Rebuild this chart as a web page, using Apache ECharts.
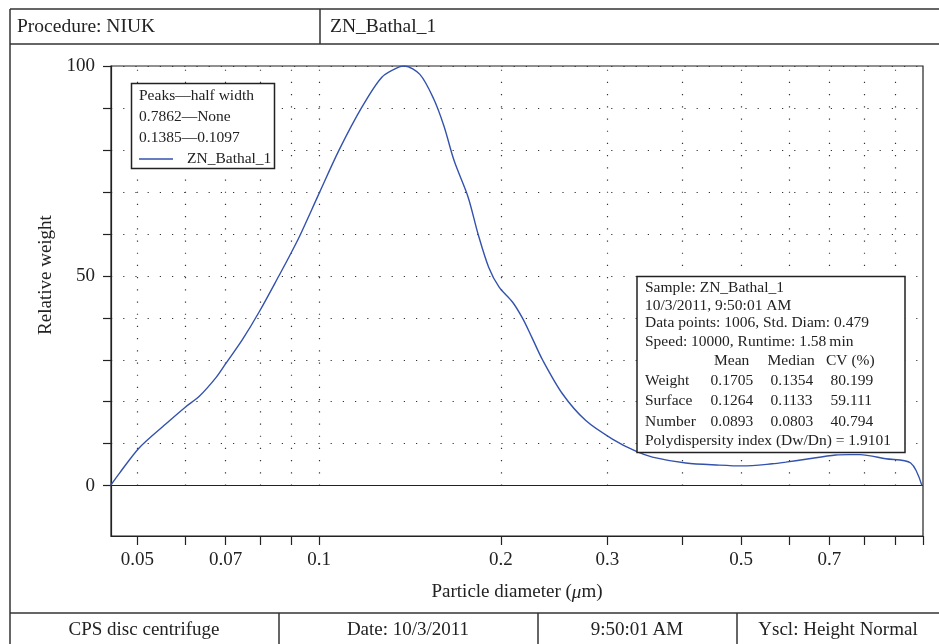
<!DOCTYPE html>
<html>
<head>
<meta charset="utf-8">
<title>ZN_Bathal_1 particle size</title>
<script src="https://cdn.jsdelivr.net/npm/echarts@6/dist/echarts.min.js"></script>
<style>
  html, body { margin: 0; padding: 0; background: #fff; }
  #main { width: 939px; height: 644px; }
</style>
</head>
<body>
<div id="main"></div>
<script>
// curve: diameter (um) vs relative weight
const diameters = [0.0451, 0.0467, 0.0504, 0.0557, 0.0600, 0.0633, 0.0675, 0.0701, 0.0746, 0.0796,
  0.0859, 0.0892, 0.0927, 0.1000, 0.1079, 0.1178, 0.1271, 0.1357, 0.1385, 0.1468,
  0.1547, 0.1609, 0.1673, 0.1764, 0.1834, 0.1909, 0.1986, 0.2091, 0.2171, 0.2249,
  0.2343, 0.2528, 0.2764, 0.3059, 0.3345, 0.3563, 0.4047, 0.4595, 0.5022, 0.5630,
  0.5925, 0.6395, 0.7171, 0.7543, 0.7862, 0.8677, 0.9541, 0.996];
const weights = [0, 3, 9.1, 14.7, 18.7, 21.3, 25.8, 29.2, 34.8, 41.5,
  50.2, 54.6, 59.3, 69.7, 80, 90.3, 97.4, 99.8, 100, 98,
  92.2, 85.7, 77.4, 68.8, 59.8, 52, 47.3, 43.7, 39.9, 35.4,
  30, 21.9, 15.5, 11.1, 8.2, 6.8, 5.4, 4.9, 4.7, 5.2,
  5.6, 6.3, 7.3, 7.4, 7.4, 6.4, 5.4, 0];

const xTicks = [0.05, 0.06, 0.07, 0.08, 0.09, 0.1, 0.2, 0.3, 0.4, 0.5, 0.6, 0.7, 0.8, 0.9, 1];
const xLabels = [0.05, 0.07, 0.1, 0.2, 0.3, 0.5, 0.7];
const yTicks = [0, 10, 20, 30, 40, 50, 60, 70, 80, 90, 100];
const yLabels = [0, 50, 100];

const seriesName = 'ZN_Bathal_1';
const peakLines = ['Peaks\u2014half width', '0.7862\u2014None', '0.1385\u20140.1097'];
const statsInfo = ['Sample: ZN_Bathal_1', '10/3/2011, 9:50:01 AM',
  'Data points: 1006, Std. Diam: 0.479', 'Speed: 10000, Runtime: 1.58\u2009min'];
const statsColumns = ['Mean', 'Median', 'CV (%)'];
const statsRows = [
  ['Weight', '0.1705', '0.1354', '80.199'],
  ['Surface', '0.1264', '0.1133', '59.111'],
  ['Number', '0.0893', '0.0803', '40.794']
];
const pdiText = 'Polydispersity index (Dw/Dn) = 1.9101';
const headerCells = ['Procedure: NIUK', 'ZN_Bathal_1'];
const footerCells = ['CPS disc centrifuge', 'Date: 10/3/2011', '9:50:01\u2009AM', 'Yscl: Height Normal'];

const chart = echarts.init(document.getElementById('main'));
const serif = '"Liberation Serif", "Times New Roman", serif';
const ink = '#222';
const dotted = { color: '#333', width: 1.2, type: [1.2, 11] };

function txt(x, y, text, size, align) {
  return {
    type: 'text', x: x, y: y, z: 120, silent: true,
    style: {
      text: text, font: size + 'px ' + serif, fill: ink,
      textAlign: align || 'left', textVerticalAlign: 'middle',
      align: align || 'left', verticalAlign: 'middle'
    }
  };
}
function line(x1, y1, x2, y2, w) {
  return {
    type: 'line', z: 120, silent: true,
    shape: { x1: x1, y1: y1, x2: x2, y2: y2 },
    style: { stroke: '#333', lineWidth: w || 1.5 }
  };
}
function box(x, y, w, h) {
  return {
    type: 'rect', z: 110, silent: true,
    shape: { x: x, y: y, width: w, height: h },
    style: { fill: '#fff', stroke: ink, lineWidth: 1.5 }
  };
}

let els = [];
// page frame like a report table
els.push(line(10, 9, 939, 9));
els.push(line(10, 44, 939, 44));
els.push(line(10, 9, 10, 644));
els.push(line(320, 9, 320, 44));
els.push(line(10, 613, 939, 613));
[279, 538, 737].forEach(function (x) { els.push(line(x, 613, x, 644)); });
els.push(txt(17, 27, headerCells[0], 19.5));
els.push(txt(330, 27, headerCells[1], 19.5));
const footerCenters = [144, 408, 637, 838];
footerCells.forEach(function (t, i) { els.push(txt(footerCenters[i], 630, t, 19, 'center')); });

// y axis title
els.push({
  type: 'text', x: 46, y: 275, rotation: Math.PI / 2, z: 120, silent: true,
  style: { text: 'Relative weight', font: '19px ' + serif, fill: ink,
    textAlign: 'center', textVerticalAlign: 'middle', align: 'center', verticalAlign: 'middle' }
});

// peaks box
els.push(box(131.5, 83.5, 143, 85));
peakLines.forEach(function (t, i) { els.push(txt(139, 95.5 + i * 21, t, 15.5)); });

// stats box
els.push(box(637, 276.5, 268, 176));
const infoY = [288, 305.5, 323, 341.5];
statsInfo.forEach(function (t, i) { els.push(txt(645, infoY[i], t, 15.5)); });
const colLeft = [714, 767.5, 826];
statsColumns.forEach(function (t, i) { els.push(txt(colLeft[i], 360.5, t, 15.5)); });
const valLeft = [645, 710.5, 770.5, 830.5];
statsRows.forEach(function (row, r) {
  row.forEach(function (t, c) { els.push(txt(valLeft[c], 381 + r * 20.3, t, 15.5)); });
});
els.push(txt(645, 441, pdiText, 15.5));

// vertical dotted guides only span 0..100
let guides = xTicks.filter(function (v) { return v < 1; }).map(function (v) {
  return [{ coord: [v, 0], lineStyle: dotted }, { coord: [v, 100] }];
});
guides.push({ yAxis: 0, lineStyle: { color: ink, width: 1.2, type: 'solid' } });

chart.setOption({
  animation: false,
  backgroundColor: '#fff',
  textStyle: { fontFamily: serif },
  grid: {
    left: 111, right: 16, top: 66, bottom: 108,
    show: true, borderColor: ink, borderWidth: 1.2, backgroundColor: 'transparent'
  },
  legend: {
    data: [{ name: seriesName, icon: 'rect' }], left: 134, top: 146, z: 130,
    itemWidth: 34, itemHeight: 1.5, selectedMode: false,
    textStyle: { fontFamily: serif, fontSize: 15.5, color: ink, padding: [0, 0, 0, 9] }
  },
  xAxis: {
    type: 'log', logBase: 10, min: 0.0452, max: 1,
    name: 'Particle diameter ({i|\u03bc}m)', nameLocation: 'middle', nameGap: 47,
    nameTextStyle: { fontFamily: serif, fontSize: 19, color: ink,
      rich: { i: { fontFamily: serif, fontSize: 19, fontStyle: 'italic', color: ink } } },
    axisLine: { show: true, onZero: false, lineStyle: { color: ink, width: 1.2 } },
    axisTick: { show: true, customValues: xTicks, length: 9, lineStyle: { color: ink, width: 1.2 } },
    axisLabel: { customValues: xLabels, margin: 15, fontFamily: serif, fontSize: 19, color: ink,
      formatter: function (v) { return String(+Number(v).toPrecision(3)); } },
    splitLine: { show: false },
    minorTick: { show: false }
  },
  yAxis: {
    type: 'value', min: -12, max: 100,
    axisLine: { show: true, onZero: false, lineStyle: { color: ink, width: 1.2 } },
    axisTick: { show: true, customValues: yTicks, length: 8, lineStyle: { color: ink, width: 1.2 } },
    axisLabel: { customValues: yLabels, margin: 16, fontFamily: serif, fontSize: 19, color: ink },
    splitLine: { show: true, lineStyle: dotted }
  },
  series: [{
    name: seriesName,
    type: 'line',
    data: diameters.map(function (d, i) { return [d, weights[i]]; }),
    symbol: 'none',
    smooth: 0.3,
    lineStyle: { color: '#3352ad', width: 1.4 },
    itemStyle: { color: '#3352ad' },
    z: 5,
    markLine: {
      silent: true, symbol: ['none', 'none'], animation: false,
      label: { show: false },
      data: guides
    }
  }],
  graphic: { elements: els }
});
</script>
</body>
</html>
